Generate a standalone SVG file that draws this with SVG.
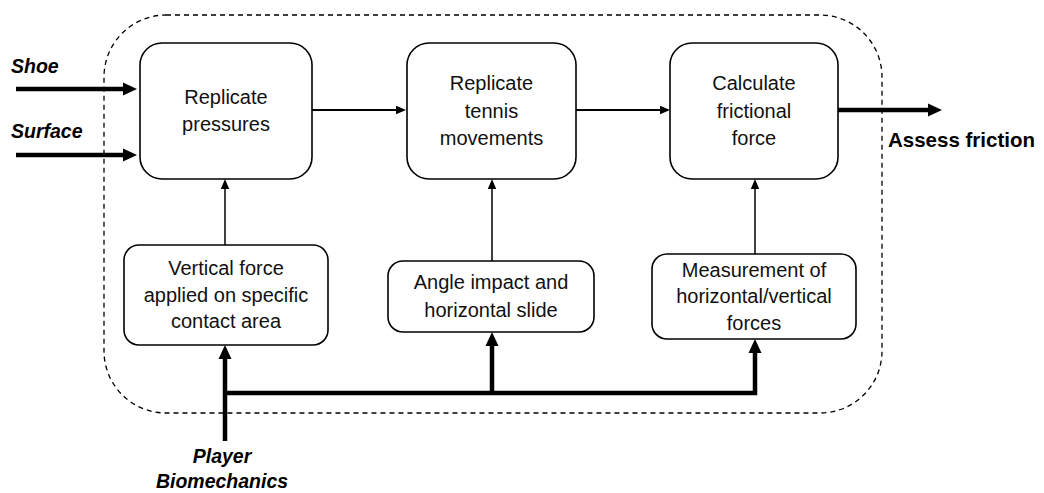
<svg xmlns="http://www.w3.org/2000/svg" width="1044" height="493" viewBox="0 0 1044 493">
  <defs>
    <!-- arrowheads: path ends at the head base, head extends forward -->
    <marker id="headThick" markerUnits="userSpaceOnUse" markerWidth="16" markerHeight="16" refX="0" refY="8" orient="auto" overflow="visible">
      <path d="M0,1.5 L14,8 L0,14.5 Z" fill="#000"/>
    </marker>
    <marker id="headThin" markerUnits="userSpaceOnUse" markerWidth="12" markerHeight="10" refX="0" refY="5" orient="auto" overflow="visible">
      <path d="M0,0.8 L10,5 L0,9.2 Z" fill="#000"/>
    </marker>
    <style>
      .box { fill: #fff; stroke: #000; stroke-width: 1.6; }
      .frame { fill: none; stroke: #000; stroke-width: 1.3; stroke-dasharray: 5 4; }
      .lbl { font-family: "Liberation Sans", Arial, sans-serif; font-size: 20px; fill: #111; text-anchor: middle; }
      .io { font-family: "Liberation Sans", Arial, sans-serif; font-size: 19.5px; font-weight: bold; font-style: italic; fill: #000; }
      .out { font-family: "Liberation Sans", Arial, sans-serif; font-size: 20.5px; font-weight: bold; fill: #000; }
      .thick { fill: none; stroke: #000; stroke-width: 4.5; }
      .thin { fill: none; stroke: #000; stroke-width: 1.5; }
      .mid { fill: none; stroke: #000; stroke-width: 2.2; }
    </style>
  </defs>

  <!-- system boundary -->
  <rect class="frame" x="104" y="15" width="778" height="398" rx="62" ry="62"/>

  <!-- connectors -->
  <g id="connectors">
    <path class="thick" d="M16,89 H123" marker-end="url(#headThick)"/>
    <path class="thick" d="M16,155 H123" marker-end="url(#headThick)"/>
    <path class="mid" d="M312,110 H396" marker-end="url(#headThin)"/>
    <path class="mid" d="M576,110 H660" marker-end="url(#headThin)"/>
    <path class="thick" d="M838,110 H928" marker-end="url(#headThick)"/>
    <path class="thin" d="M225,245 V189" marker-end="url(#headThin)"/>
    <path class="thin" d="M492,261 V189" marker-end="url(#headThin)"/>
    <path class="thin" d="M755,254 V189" marker-end="url(#headThin)"/>
    <path class="thick" d="M225,441 V359" marker-end="url(#headThick)"/>
    <path class="thick" d="M225,393 H755 V353" marker-end="url(#headThick)"/>
    <path class="thick" d="M492,393 V346" marker-end="url(#headThick)"/>
  </g>

  <!-- inputs and output labels -->
  <text class="io" x="11" y="73">Shoe</text>
  <text class="io" x="11" y="138">Surface</text>
  <text class="out" x="888" y="147">Assess friction</text>
  <text class="io" x="222" y="463" text-anchor="middle" font-size="20">Player</text>
  <text class="io" x="222" y="488" text-anchor="middle" font-size="20">Biomechanics</text>

  <g id="replicate-pressures">
    <rect class="box" x="140" y="43" width="172" height="136" rx="22"/>
    <text class="lbl" x="226" y="104">Replicate</text>
    <text class="lbl" x="226" y="131">pressures</text>
  </g>

  <g id="replicate-movements">
    <rect class="box" x="407" y="43" width="169" height="136" rx="22"/>
    <text class="lbl" x="491.5" y="90">Replicate</text>
    <text class="lbl" x="491.5" y="118">tennis</text>
    <text class="lbl" x="491.5" y="145">movements</text>
  </g>

  <g id="calculate-friction">
    <rect class="box" x="670" y="43" width="168" height="136" rx="22"/>
    <text class="lbl" x="754" y="90">Calculate</text>
    <text class="lbl" x="754" y="118">frictional</text>
    <text class="lbl" x="754" y="145">force</text>
  </g>

  <g id="vertical-force">
    <rect class="box" x="124" y="245" width="204" height="100" rx="15"/>
    <text class="lbl" x="226" y="275">Vertical force</text>
    <text class="lbl" x="226" y="302">applied on specific</text>
    <text class="lbl" x="226" y="328">contact area</text>
  </g>

  <g id="angle-impact">
    <rect class="box" x="388" y="261" width="206" height="71" rx="15"/>
    <text class="lbl" x="491" y="289">Angle impact and</text>
    <text class="lbl" x="491" y="317">horizontal slide</text>
  </g>

  <g id="force-measurement">
    <rect class="box" x="652" y="254" width="204" height="85" rx="15"/>
    <text class="lbl" x="754" y="277">Measurement of</text>
    <text class="lbl" x="754" y="303">horizontal/vertical</text>
    <text class="lbl" x="754" y="330">forces</text>
  </g>
</svg>
